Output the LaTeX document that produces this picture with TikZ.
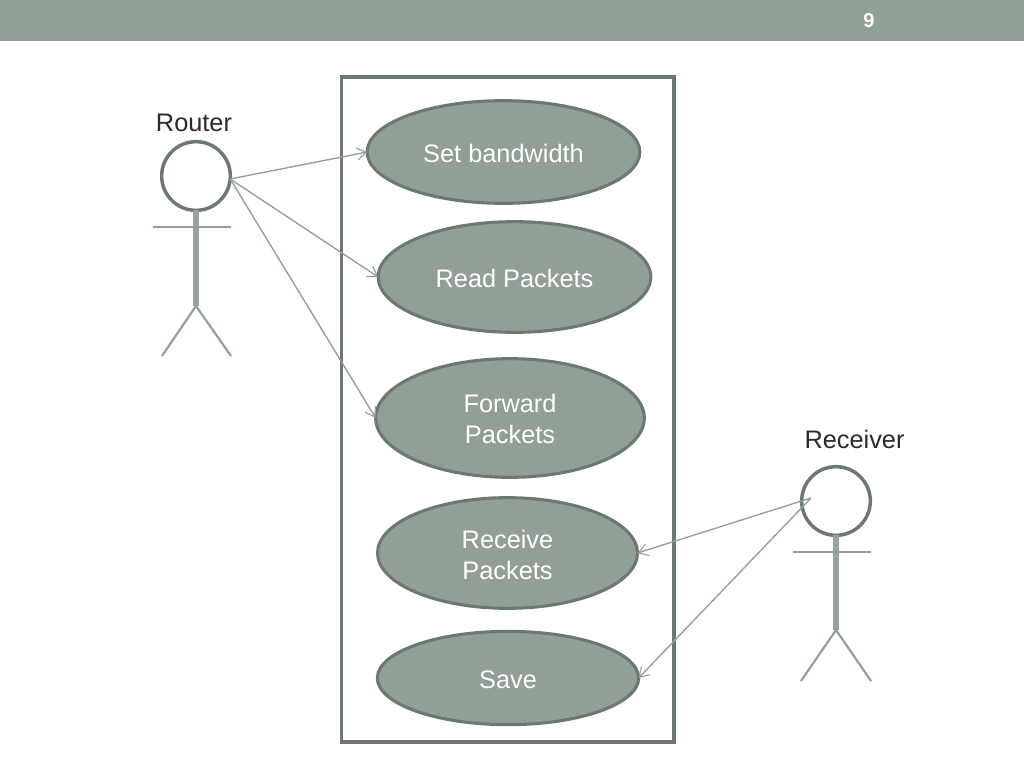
\documentclass[tikz,border=0pt]{standalone}
\usepackage{fontspec}
\setmainfont{Liberation Sans}
\usetikzlibrary{arrows.meta,shapes.geometric}
\definecolor{sage}{HTML}{919F97}
\definecolor{sagedark}{HTML}{6C7872}
\definecolor{sagelight}{HTML}{97A59D}
\definecolor{inkk}{HTML}{272B2E}
\newcommand{\lift}[1]{\rule{0pt}{#1pt}}
\tikzset{
  px/.style={x=0.75pt,y=-0.75pt},
  usecase/.style={ellipse,draw=sagedark,fill=sage,line width=2.3pt,inner sep=0pt,outer sep=0pt,
    text=white,align=center,font=\fontsize{19}{22.9}\selectfont},
  headc/.style={circle,draw=sagedark,fill=white,line width=2.6pt,minimum size=51.5pt,inner sep=0pt,outer sep=0pt},
  body/.style={draw=sagelight,line width=4pt},
  limb/.style={draw=sage,line width=1.6pt},
  link/.style={draw=sage,line width=1pt,-{Straight Barb[length=7pt,width=9pt,line width=0.8pt]}},
  actorlabel/.style={text=inkk,inner sep=0pt,font=\fontsize{19}{22.9}\selectfont},
  panel/.style={draw=sagedark,line width=2.3pt},
  bar/.style={fill=sage,draw=none},
  pagenum/.style={text=white,inner sep=0pt,font=\bfseries\fontsize{15}{18}\selectfont}
}
\begin{document}
\begin{tikzpicture}[px]
\useasboundingbox (0,0) rectangle (1024,768);
\fill[white] (0,0) rectangle (1024,768);
\path[bar] (0,0) rectangle (1024,41);
\node[pagenum] (pg) at (869,21) {9};
\draw[panel] (341.5,77) rectangle (674,742);
% use cases
\node[usecase,minimum width=204.5pt,minimum height=77pt] (uc1) at (503.5,152) {\lift{15.2}Set bandwidth};
\node[usecase,minimum width=204.5pt,minimum height=83pt] (uc2) at (514.5,277) {\lift{15.4}Read Packets};
\node[usecase,minimum width=201.5pt,minimum height=89pt] (uc3) at (510,418) {\lift{15.4}Forward\\Packets};
\node[usecase,minimum width=195pt,minimum height=83pt] (uc4) at (507.5,553) {\lift{16.6}Receive\\Packets};
\node[usecase,minimum width=196pt,minimum height=70pt] (uc5) at (508,678) {\lift{16.4}Save};
% router
\node[actorlabel] (rl) at (194,122.5) {Router};
\coordinate (rn) at (196,306);
\coordinate (rll) at (162,356);
\coordinate (rlr) at (231,356);
\coordinate (ral) at (153,227);
\coordinate (rar) at (231,227);
\node[headc] (rh) at (196,176) {};
\draw[body] (rh.south) -- (rn);
\draw[limb] (ral) -- (rar);
\draw[limb] (rll) -- (rn) -- (rlr);
% receiver
\node[actorlabel] (sl) at (854.5,439.5) {Receiver};
\coordinate (sn) at (836,630);
\coordinate (sll) at (801,681);
\coordinate (slr) at (871,681);
\coordinate (sal) at (793,552);
\coordinate (sar) at (871,552);
\node[headc] (sh) at (836,501) {};
\draw[body] (sh.south) -- (sn);
\draw[limb] (sal) -- (sar);
\draw[limb] (sll) -- (sn) -- (slr);
\coordinate (sf) at (811,498);
% connectors
\draw[link] (rh.-5) -- (uc1.west);
\draw[link] (rh.-5) -- (uc2.west);
\draw[link] (rh.-5) -- (uc3.west);
\draw[link] (sf) -- (uc4.east);
\draw[link] (sf) -- (uc5.east);
\end{tikzpicture}
\end{document}
